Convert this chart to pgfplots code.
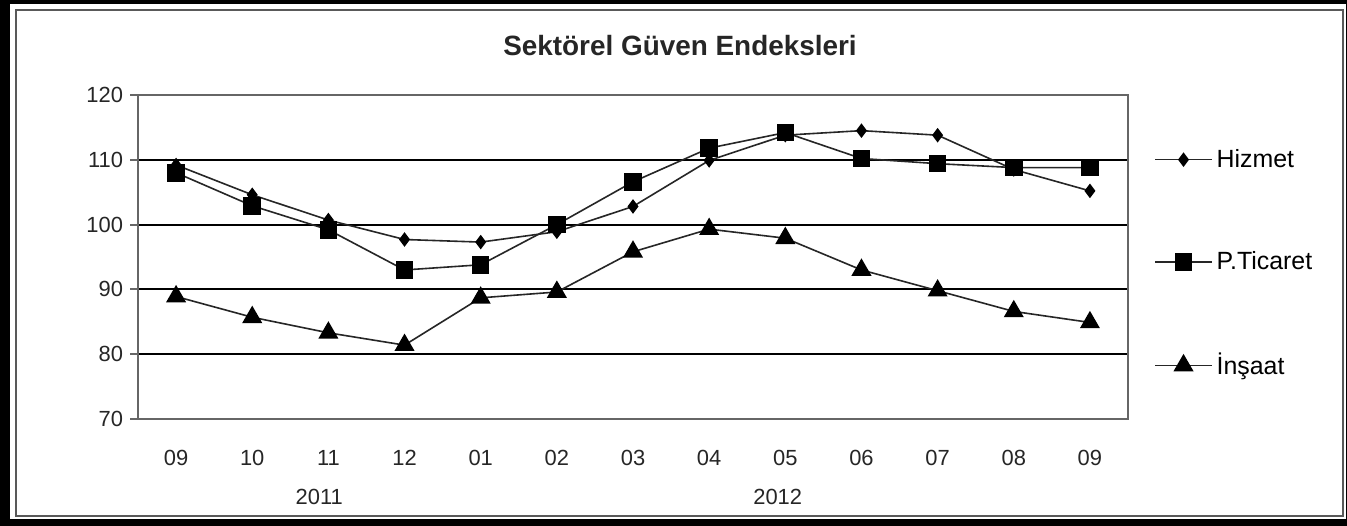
\documentclass[border=0pt]{standalone}
\usepackage{fontspec}
\setmainfont{Liberation Sans}
\usepackage{pgfplots}
\pgfplotsset{compat=1.18}
\begin{document}
\begin{tikzpicture}
\fill[black] (0,0) rectangle (673.5bp,263bp);
\fill[white] (5bp,3.5bp) rectangle (673bp,261bp);
\draw[black!65, line width=1bp] (8bp,5bp) rectangle (671.5bp,258bp);
\begin{axis}[
  at={(69bp,53.5bp)}, anchor=south west,
  scale only axis, width=495bp, height=162bp,
  xmin=-0.5, xmax=12.5, ymin=70, ymax=120,
  ytick={70,80,90,100,110,120},
  xtick={0,...,12},
  xticklabels={09,10,11,12,01,02,03,04,05,06,07,08,09},
  ymajorgrids,
  grid style={black, line width=1bp},
  axis line style={black!60, line width=1.2bp},
  tick style={black!60, line width=1bp},
  xtick style={draw=none},
  ytick pos=left, xtick pos=bottom,
  tick align=outside,
  major tick length=4bp,
  ticklabel style={font=\fontsize{11}{12}\selectfont, text=black!85},
  xticklabel style={anchor=center, yshift=-15.5bp},
  /pgf/number format/assume math mode=true,
  clip=false,
  legend style={draw=none, fill=none, at={(1,0.48)}, anchor=west, xshift=10bp,
    font=\fontsize{12.5}{15}\selectfont, row sep=36.5bp, cells={anchor=west}},
  legend image code/.code={\draw[mark repeat=2,mark phase=2] plot coordinates {(0cm,0cm) (0.5cm,0cm) (1cm,0cm)};},
]
\addplot[black!85, line width=0.8bp, mark=diamond*, mark size=3bp, mark options={black}] coordinates {
(0,109.2) (1,104.6) (2,100.7) (3,97.7) (4,97.3) (5,98.9) (6,102.8) (7,109.9) (8,113.8) (9,114.5) (10,113.8) (11,108.5) (12,105.2)};
\addlegendentry{Hizmet}
\addplot[black!85, line width=0.8bp, mark=square*, mark size=4bp, mark options={black}] coordinates {
(0,108.0) (1,102.9) (2,99.2) (3,93.0) (4,93.8) (5,100.0) (6,106.6) (7,111.8) (8,114.2) (9,110.2) (10,109.4) (11,108.8) (12,108.8)};
\addlegendentry{P.Ticaret}
\addplot[black!85, line width=0.8bp, mark=triangle*, mark size=5bp, mark options={black}] coordinates {
(0,88.9) (1,85.7) (2,83.3) (3,81.4) (4,88.7) (5,89.6) (6,95.8) (7,99.3) (8,97.9) (9,93.0) (10,89.8) (11,86.6) (12,84.9)};
\addlegendentry{İnşaat}
\node[font=\fontsize{11}{12}\selectfont, text=black!85, yshift=-39bp] at (axis cs:1.88,70) {2011};
\node[font=\fontsize{11}{12}\selectfont, text=black!85, yshift=-39bp] at (axis cs:7.9,70) {2012};
\end{axis}
\node[font=\bfseries\fontsize{14}{16}\selectfont, text=black!85] at (340bp,240bp) {Sektörel Güven Endeksleri};
\end{tikzpicture}
\end{document}
